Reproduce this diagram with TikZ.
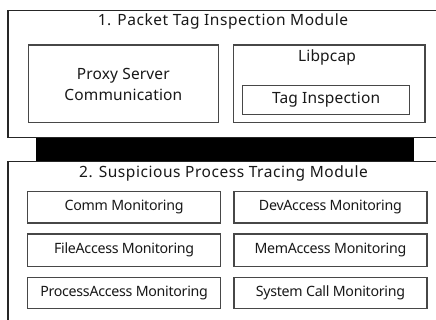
\documentclass[tikz,border=0pt]{standalone}
\usepackage{fontspec}
\setmainfont{Noto Sans}
\tikzset{
  frame/.style={draw=black!85, line width=1.2pt, inner sep=0pt, anchor=north west},
  box/.style={draw=black!72, line width=1.2pt, inner sep=0pt, anchor=north west},
  ttl/.style={font=\fontsize{15.5}{17}\selectfont\addfontfeatures{LetterSpace=3.5}, text=black!90, inner sep=0pt},
  lbl/.style={font=\fontsize{15.5}{21}\selectfont\addfontfeatures{LetterSpace=1}, text=black!90, align=center},
  mon/.style={font=\fontsize{14.2}{15}\selectfont\addfontfeatures{LetterSpace=-2}, text=black!90},
}
\begin{document}
\begin{tikzpicture}[x=1pt,y=-1pt]
\useasboundingbox (0,0) rectangle (436,320);
\clip (0,0) rectangle (436,320);
\fill[white] (0,0) rectangle (436,320);
% module 1
\node[frame, minimum width=440pt, minimum height=127.3pt] (m1) at (7.3,10) {};
\node[ttl] (t1) at (223,21) {1. Packet Tag Inspection Module};
\node[box, lbl, minimum width=190.5pt, minimum height=77.8pt] (proxy) at (27.5,44.5) {Proxy Server\\Communication};
\node[box, minimum width=191.3pt, minimum height=77.8pt] (lib) at (233,44.5) {};
\node[lbl, inner sep=0pt] (libt) at (327,57) {Libpcap};
\node[box, lbl, minimum width=167pt, minimum height=29pt] (tag) at (242,85) {Tag Inspection};
% connector bar
\node[fill=black, draw=none, inner sep=0pt, anchor=north west, minimum width=377.3pt, minimum height=22.4pt] (bar) at (36,138.3) {};
% module 2
\node[frame, minimum width=440pt, minimum height=180pt] (m2) at (7.3,160.7) {};
\node[ttl] (t2) at (223.5,173) {2. Suspicious Process Tracing Module};
\node[box, mon, minimum width=193pt, minimum height=31.5pt] (comm) at (27,191) {Comm Monitoring};
\node[box, mon, minimum width=193pt, minimum height=31.5pt] (dev) at (233.3,191) {DevAccess Monitoring};
\node[box, mon, minimum width=193pt, minimum height=32pt] (file) at (27,233.5) {FileAccess Monitoring};
\node[box, mon, minimum width=193pt, minimum height=32pt] (mem) at (233.3,233.5) {MemAccess Monitoring};
\node[box, mon, minimum width=193pt, minimum height=31.5pt] (proc) at (27,276.7) {ProcessAccess Monitoring};
\node[box, mon, minimum width=193pt, minimum height=31.5pt] (sys) at (233.3,276.7) {System Call Monitoring};
\end{tikzpicture}
\end{document}
